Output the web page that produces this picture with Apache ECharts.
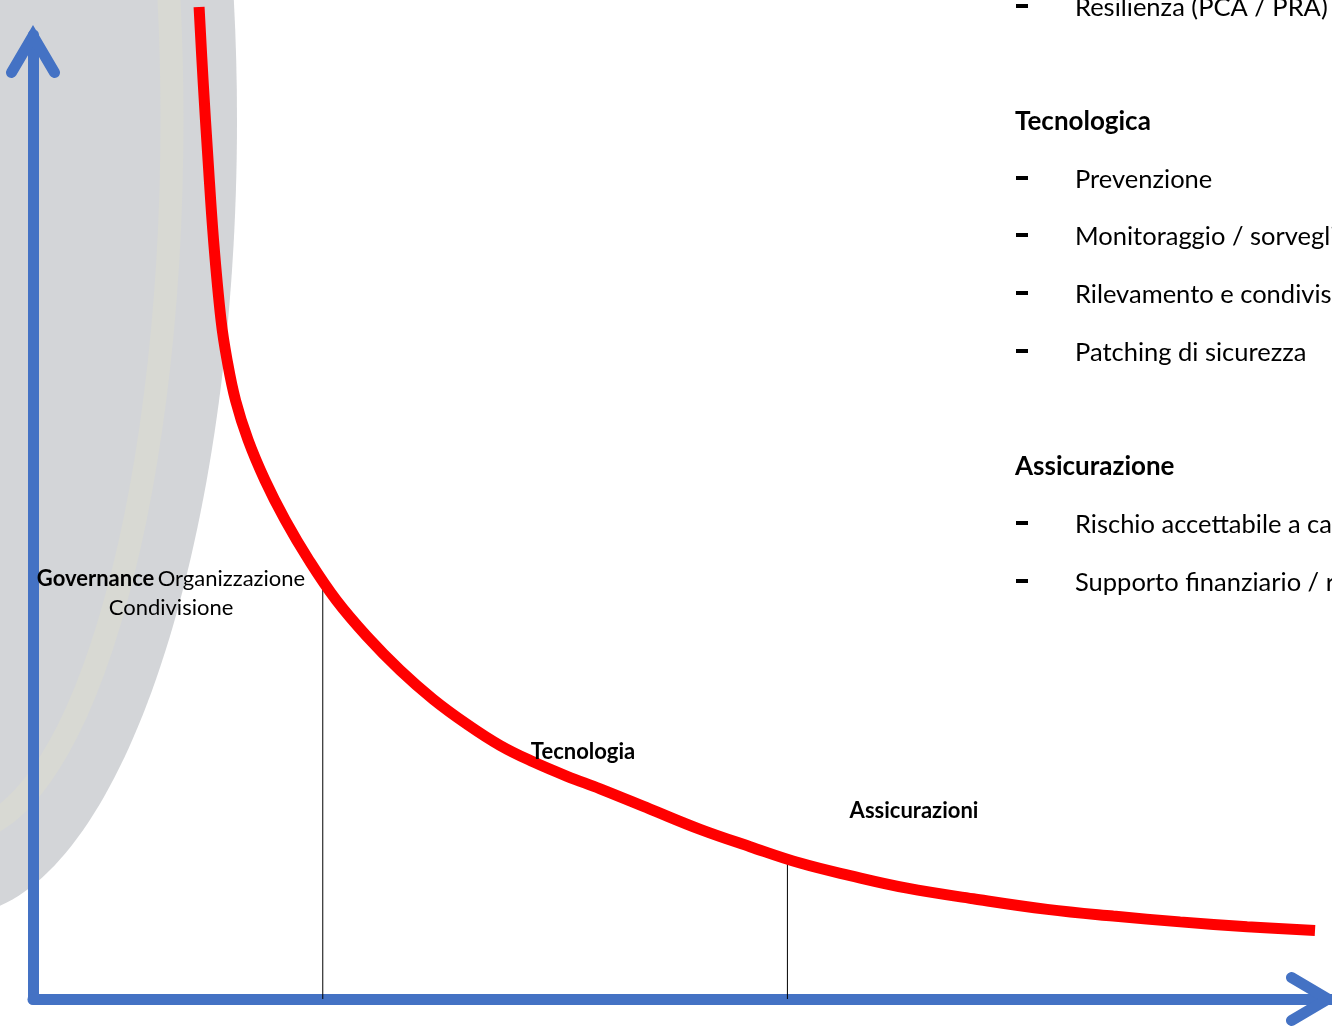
<!DOCTYPE html>
<html>
<head>
<meta charset="utf-8">
<script src="https://cdn.jsdelivr.net/npm/echarts@6/dist/echarts.min.js"></script>
<style>
  html, body { margin: 0; padding: 0; background: #fff; }
  #chart { width: 1332px; height: 1027px; }
</style>
</head>
<body>
<div id="chart"></div>
<script>
// curva del rischio residuo: sforzo (x) vs rischio (y)
var effort = [16.62, 17.02, 17.52, 18.07, 18.82, 19.42, 20.27, 21.52, 23.22, 25.23, 27.63, 30.33,
    33.43, 36.74, 40.04, 43.44, 46.75, 50.05, 53.45, 56.76, 61.76, 66.77, 71.77, 76.77,
    81.78, 87.49, 94.09, 101.5, 108.1, 114.8, 121.5, 128.3];
var risk = [102.9, 95.3, 87.0, 78.7, 70.4, 66.3, 62.1, 58.0, 53.8, 49.7, 45.5, 41.4,
    37.6, 34.1, 31.1, 28.5, 26.3, 24.6, 23.1, 21.8, 19.7, 17.6, 15.8, 14.1,
    12.8, 11.5, 10.4, 9.3, 8.6, 8.0, 7.5, 7.1];

// linee verticali di separazione
var dividerX = [29.0, 75.5];
var dividerTop = [42.9, 14.4];

// etichette delle fasi
var phaseLabels = ['Tecnologia', 'Assicurazioni'];

// elenco a destra
var listItems = [
    {text: 'Resilienza (PCA / PRA)', head: false, y: 8},
    {text: 'Tecnologica', head: true, y: 122},
    {text: 'Prevenzione', head: false, y: 180},
    {text: 'Monitoraggio / sorveglianza', head: false, y: 237},
    {text: 'Rilevamento e condivisione', head: false, y: 295},
    {text: 'Patching di sicurezza', head: false, y: 353},
    {text: 'Assicurazione', head: true, y: 467},
    {text: 'Rischio accettabile a carico', head: false, y: 525},
    {text: 'Supporto finanziario / risarcimento', head: false, y: 583}
];

var FONT = 'Lato, Carlito, "Open Sans", sans-serif';
var BLUE = '#4472c4';
// freccia aperta (punta verso l'alto)
var chevron = 'path://M27 0 L53.24 44.71 A5.5 5.5 0 0 1 43.76 50.29 L27 21.84 L10.24 50.29 A5.5 5.5 0 0 1 0.76 44.71 Z';

var myChart = echarts.init(document.getElementById('chart'));

var curveData = [];
for (var i = 0; i < effort.length; i++) {
    curveData.push([effort[i], risk[i]]);
}

var series = [];
for (var j = 0; j < dividerX.length; j++) {
    series.push({
        type: 'line',
        data: [[dividerX[j], 0], [dividerX[j], dividerTop[j]]],
        showSymbol: false,
        lineStyle: {color: '#000', width: 1},
        z: 3,
        silent: true
    });
}
series.push({
    type: 'line',
    data: curveData,
    smooth: 0.4,
    showSymbol: false,
    clip: false,
    lineStyle: {color: '#ff0000', width: 11, cap: 'butt'},
    z: 5,
    silent: true
});

var graphics = [
    {
        type: 'ellipse', z: -20,
        shape: {cx: -43, cy: 120, rx: 280, ry: 795},
        style: {fill: '#d3d5d8'}
    },
    {
        type: 'ellipse', z: -19,
        shape: {cx: -43, cy: 120, rx: 215, ry: 712},
        style: {fill: null, stroke: '#d8d9d3', lineWidth: 23}
    },
    {
        type: 'text', z: 100, x: 171, y: 564,
        style: {
            text: '{b|Governance} {n|Organizzazione}\n{n|Condivisione}',
            align: 'center', verticalAlign: 'top',
            rich: {
                b: {fontFamily: FONT, fontSize: 22, fontWeight: 'bold', fill: '#000', lineHeight: 29},
                n: {fontFamily: FONT, fontSize: 22, fill: '#000', lineHeight: 29}
            }
        }
    },
    {
        type: 'text', z: 100, x: 583, y: 752,
        style: {text: phaseLabels[0], font: 'bold 22px ' + FONT, fill: '#000', align: 'center', verticalAlign: 'middle'}
    },
    {
        type: 'text', z: 100, x: 914, y: 811,
        style: {text: phaseLabels[1], font: 'bold 22px ' + FONT, fill: '#000', align: 'center', verticalAlign: 'middle'}
    }
];

for (var k = 0; k < listItems.length; k++) {
    var it = listItems[k];
    if (it.head) {
        graphics.push({
            type: 'text', z: 100, x: 1015, y: it.y,
            style: {text: it.text, font: 'bold 26px ' + FONT, fill: '#000', verticalAlign: 'middle'}
        });
    } else {
        graphics.push({
            type: 'rect', z: 100,
            shape: {x: 1016, y: it.y - 4, width: 12, height: 4},
            style: {fill: '#000'}
        });
        graphics.push({
            type: 'text', z: 100, x: 1075, y: it.y,
            style: {text: it.text, font: '25.5px ' + FONT, fill: '#000', verticalAlign: 'middle'}
        });
    }
}

var options = {
    backgroundColor: '#fff',
    animation: false,
    grid: {left: 33, right: 0, top: 35, bottom: 28},
    xAxis: {
        type: 'value',
        min: 0,
        max: 130,
        axisLine: {
            show: true,
            lineStyle: {color: BLUE, width: 11},
            symbol: ['none', chevron],
            symbolSize: [54, 53],
            symbolOffset: [0, -19.5]
        },
        axisTick: {show: false},
        axisLabel: {show: false},
        splitLine: {show: false}
    },
    yAxis: {
        type: 'value',
        min: 0,
        max: 100,
        axisLine: {
            show: true,
            lineStyle: {color: BLUE, width: 11},
            symbol: ['none', chevron],
            symbolSize: [54, 53],
            symbolOffset: [0, -16.5]
        },
        axisTick: {show: false},
        axisLabel: {show: false},
        splitLine: {show: false}
    },
    graphic: graphics,
    series: series
};

myChart.setOption(options, true);
</script>
</body>
</html>
